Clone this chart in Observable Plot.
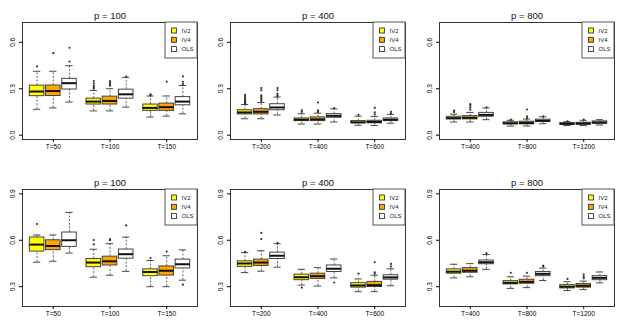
<!DOCTYPE html>
<html><head><meta charset="utf-8">
<script src="https://cdn.jsdelivr.net/npm/d3@7"></script>
<script src="https://cdn.jsdelivr.net/npm/@observablehq/plot@0.6"></script>
<style>
body{margin:0;background:#fff;}
#grid{display:grid;grid-template-columns:208px 209px 208px;grid-template-rows:167px 167px;width:625px;height:334px;}
#grid svg{display:block;}
</style></head><body><div id="grid"></div>
<script>
// ---------- data ----------
const methods = ["IV2", "IV4", "OLS"];
const methodFills = ["#FFFF00", "#FFA500", "#FFFFFF"];
const pLabels = ["p = 100", "p = 400", "p = 800"];
const tLabels = [["T=50", "T=100", "T=150"], ["T=200", "T=400", "T=600"], ["T=400", "T=800", "T=1200"]];
const topTicks = [0.0, 0.3, 0.6];
const bottomTicks = [0.3, 0.6, 0.9];
const topLimits = [0.0, 0.7];
const bottomLimits = [0.2, 0.9];

// box stats [lower whisker, Q1, median, Q3, upper whisker]; order: T1 IV2, T1 IV4, T1 OLS, T2 ..., T3 ...
const statsTop100 = [
  [0.167, 0.252, 0.282, 0.320, 0.413], [0.176, 0.253, 0.285, 0.321, 0.413], [0.214, 0.295, 0.336, 0.364, 0.449],
  [0.157, 0.198, 0.217, 0.236, 0.289], [0.157, 0.198, 0.221, 0.249, 0.300], [0.181, 0.236, 0.264, 0.294, 0.374],
  [0.117, 0.157, 0.176, 0.198, 0.253], [0.123, 0.157, 0.181, 0.204, 0.253], [0.138, 0.193, 0.217, 0.246, 0.321]];
const outTop100 = [[0.444], [0.530], [0.476, 0.565],
  [0.30, 0.31, 0.32, 0.335, 0.35], [0.32, 0.33, 0.34, 0.35], [0.378],
  [0.258, 0.263], [0.346], [0.33, 0.345, 0.380]];

const statsTop400 = [
  [0.106, 0.134, 0.147, 0.161, 0.198], [0.106, 0.134, 0.151, 0.168, 0.211], [0.130, 0.161, 0.179, 0.200, 0.246],
  [0.072, 0.091, 0.100, 0.108, 0.138], [0.072, 0.091, 0.102, 0.115, 0.142], [0.085, 0.112, 0.125, 0.136, 0.170],
  [0.064, 0.077, 0.083, 0.091, 0.123], [0.062, 0.077, 0.085, 0.093, 0.121], [0.077, 0.091, 0.100, 0.108, 0.134]];
const outTop400 = [[0.205, 0.21, 0.215, 0.22, 0.225, 0.235, 0.24, 0.25, 0.26], [0.22, 0.23, 0.24, 0.25, 0.257, 0.29, 0.304], [0.25, 0.257, 0.268, 0.29, 0.304],
  [0.15, 0.161], [0.15, 0.161, 0.211], [0.175],
  [0.132], [0.134, 0.148, 0.176], [0.14, 0.151]];

const statsTop800 = [
  [0.085, 0.102, 0.110, 0.119, 0.136], [0.085, 0.102, 0.112, 0.123, 0.147], [0.100, 0.119, 0.131, 0.144, 0.176],
  [0.059, 0.070, 0.077, 0.083, 0.096], [0.059, 0.070, 0.079, 0.087, 0.104], [0.074, 0.085, 0.093, 0.100, 0.119],
  [0.062, 0.068, 0.073, 0.078, 0.087], [0.062, 0.068, 0.075, 0.080, 0.096], [0.066, 0.074, 0.082, 0.089, 0.100]];
const outTop800 = [[0.15, 0.158], [0.165, 0.178, 0.19, 0.20], [0.18],
  [0.10], [0.11, 0.121, 0.166], [0.122],
  [0.09], [0.10], []];

const statsBottom100 = [
  [0.458, 0.527, 0.572, 0.618, 0.634], [0.464, 0.536, 0.563, 0.600, 0.634], [0.517, 0.557, 0.600, 0.650, 0.780],
  [0.361, 0.426, 0.456, 0.479, 0.542], [0.374, 0.437, 0.464, 0.494, 0.578], [0.399, 0.481, 0.510, 0.540, 0.620],
  [0.300, 0.368, 0.395, 0.412, 0.469], [0.300, 0.372, 0.403, 0.431, 0.500], [0.342, 0.418, 0.445, 0.475, 0.538]];
const outBottom100 = [[0.705], [], [],
  [0.574, 0.601], [0.600, 0.607], [0.696],
  [0.485], [0.527], [0.313]];

const statsBottom400 = [
  [0.391, 0.428, 0.450, 0.464, 0.520], [0.400, 0.434, 0.456, 0.475, 0.532], [0.426, 0.479, 0.500, 0.520, 0.578],
  [0.310, 0.342, 0.361, 0.378, 0.412], [0.304, 0.350, 0.368, 0.384, 0.423], [0.357, 0.395, 0.416, 0.437, 0.479],
  [0.268, 0.294, 0.308, 0.323, 0.350], [0.268, 0.298, 0.310, 0.331, 0.374], [0.306, 0.345, 0.360, 0.374, 0.416]];
const outBottom400 = [[0.525], [0.608, 0.648], [0.583],
  [0.294], [], [0.327],
  [0.384], [0.385, 0.392, 0.458], [0.430, 0.447]];

const statsBottom800 = [
  [0.357, 0.384, 0.397, 0.412, 0.445], [0.364, 0.390, 0.403, 0.420, 0.449], [0.412, 0.445, 0.458, 0.469, 0.508],
  [0.289, 0.315, 0.325, 0.336, 0.364], [0.294, 0.319, 0.331, 0.345, 0.368], [0.340, 0.368, 0.383, 0.395, 0.420],
  [0.275, 0.289, 0.300, 0.310, 0.332], [0.281, 0.294, 0.306, 0.317, 0.336], [0.325, 0.342, 0.357, 0.368, 0.395]];
const outBottom800 = [[], [], [0.517],
  [0.390], [0.390], [0.430, 0.437],
  [0.350], [0.354, 0.365, 0.378], []];

// ---------- layout ----------
const groupPos = [2, 5.5, 9];
const xDomain = [0.1, 10.9];
const halfW = 0.45;
const ext = l => { const d = (l[1] - l[0]) * 0.04; return [l[0] - d, l[1] + d]; };

const panels = [
  {title: pLabels[0], t: tLabels[0], stats: statsTop100, out: outTop100, ticks: topTicks, lim: topLimits},
  {title: pLabels[1], t: tLabels[1], stats: statsTop400, out: outTop400, ticks: topTicks, lim: topLimits},
  {title: pLabels[2], t: tLabels[2], stats: statsTop800, out: outTop800, ticks: topTicks, lim: topLimits},
  {title: pLabels[0], t: tLabels[0], stats: statsBottom100, out: outBottom100, ticks: bottomTicks, lim: bottomLimits},
  {title: pLabels[1], t: tLabels[1], stats: statsBottom400, out: outBottom400, ticks: bottomTicks, lim: bottomLimits},
  {title: pLabels[2], t: tLabels[2], stats: statsBottom800, out: outBottom800, ticks: bottomTicks, lim: bottomLimits}
];
const widths = [208, 209, 208];
const mL = 22, mT = 22, mB = 28;

const grid = document.getElementById("grid");
panels.forEach((pn, k) => {
  const w = widths[k % 3];
  const mR = w - 197;
  const boxes = pn.stats.map((s, i) => ({
    pos: groupPos[Math.floor(i / 3)] + (i % 3) - 1,
    fill: methodFills[i % 3],
    lo: s[0], q1: s[1], med: s[2], q3: s[3], hi: s[4]
  }));
  const outs = [];
  pn.out.forEach((arr, i) => arr.forEach(v => outs.push({pos: boxes[i].pos, v})));

  const legend = () => {
    const g = d3.create("svg:g");
    const right = w - mR, top = mT;
    g.append("rect").attr("x", right - 32).attr("y", top).attr("width", 32).attr("height", 36)
      .attr("fill", "white").attr("stroke", "#555").attr("stroke-width", 1);
    methods.forEach((m, i) => {
      const cy = top + 8.5 + i * 9.3;
      g.append("rect").attr("x", right - 25.5).attr("y", cy - 2.5).attr("width", 5).attr("height", 5)
        .attr("fill", methodFills[i]).attr("stroke", "#222").attr("stroke-width", 0.8);
      g.append("text").attr("x", right - 15.5).attr("y", cy).attr("dy", "0.35em")
        .attr("text-anchor", "start")
        .attr("font-size", 6).attr("fill", "#222").text(m);
    });
    return g.node();
  };

  const svg = Plot.plot({
    width: w, height: 167,
    marginLeft: mL, marginRight: mR, marginTop: mT, marginBottom: mB,
    style: {fontFamily: "'Liberation Sans', Arial, sans-serif", background: "white", overflow: "visible"},
    x: {domain: xDomain},
    y: {domain: ext(pn.lim)},
    marks: [
      // whiskers
      Plot.ruleX(boxes, {x: "pos", y1: "q3", y2: "hi", stroke: "#555", strokeDasharray: "2,1.6", strokeWidth: 0.9}),
      Plot.ruleX(boxes, {x: "pos", y1: "lo", y2: "q1", stroke: "#555", strokeDasharray: "2,1.6", strokeWidth: 0.9}),
      // staples
      Plot.ruleY(boxes, {y: "hi", x1: d => d.pos - halfW / 2, x2: d => d.pos + halfW / 2, stroke: "#333", strokeWidth: 0.9}),
      Plot.ruleY(boxes, {y: "lo", x1: d => d.pos - halfW / 2, x2: d => d.pos + halfW / 2, stroke: "#333", strokeWidth: 0.9}),
      // boxes
      Plot.rect(boxes, {x1: d => d.pos - halfW, x2: d => d.pos + halfW, y1: "q1", y2: "q3", fill: "fill", stroke: "#444", strokeWidth: 1}),
      // medians
      Plot.ruleY(boxes, {y: "med", x1: d => d.pos - halfW, x2: d => d.pos + halfW, stroke: "#111", strokeWidth: 2}),
      // outliers
      Plot.dot(outs, {x: "pos", y: "v", r: 1.1, fill: "#333", stroke: "none"}),
      Plot.frame({stroke: "#333"}),
      Plot.axisX({ticks: groupPos, tickFormat: d => pn.t[groupPos.indexOf(d)], tickSize: 3, tickPadding: 2, fontSize: 6.5, label: null}),
      Plot.axisY({ticks: pn.ticks, tickSize: 3, tickFormat: () => "", label: null}),
      Plot.text(pn.ticks, {y: d => d, text: d => d.toFixed(1), frameAnchor: "left", dx: -10, rotate: -90, fontSize: 6.5, textAnchor: "middle", lineAnchor: "middle"}),
      Plot.text([pn.title], {text: d => d, frameAnchor: "top", dy: -7, fontSize: 9.5, lineAnchor: "middle", fill: "#111"}),
      legend
    ]
  });
  grid.appendChild(svg);
});
</script>
</body></html>
